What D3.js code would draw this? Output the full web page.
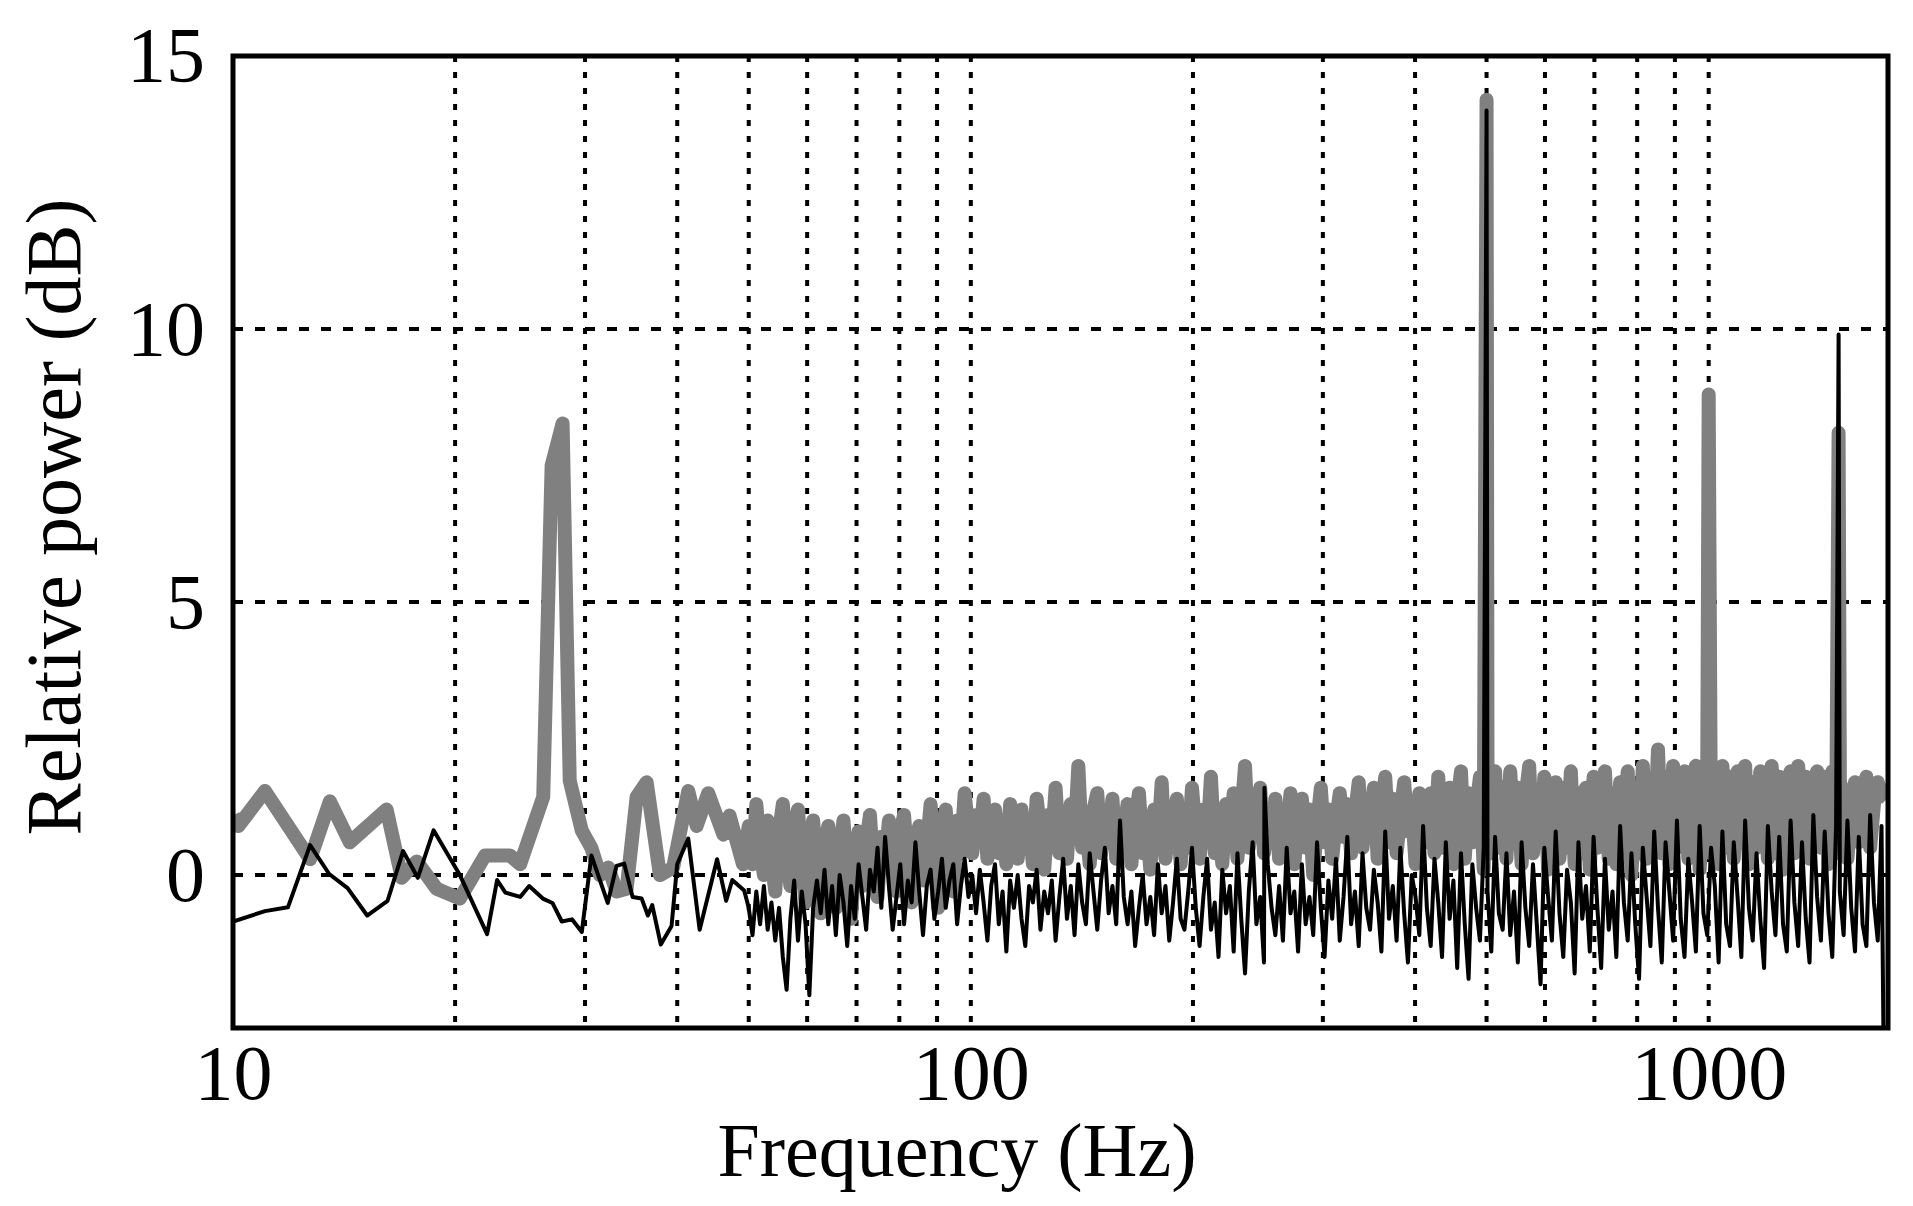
<!DOCTYPE html>
<html>
<head>
<meta charset="utf-8">
<script src="https://cdn.jsdelivr.net/npm/d3@7"></script>
<style>
  body { margin: 0; background: #fff; }
  text { font-family: "Liberation Serif", "DejaVu Serif", serif; }
</style>
</head>
<body>
<svg id="chart" width="1913" height="1206"></svg>
<script>
// axes
const xTicks = [10, 100, 1000];
const xGrid = [20, 30, 40, 50, 60, 70, 80, 90, 200, 300, 400, 500, 600, 700, 800, 900];
const yTicks = [0, 5, 10, 15];

// low-frequency part read point by point [Hz, dB]
const blackLow = [[10,-0.85],[11.05,-0.66],[11.87,-0.59],[12.72,0.55],[13.5,0.02],[14.3,-0.24],[15.2,-0.74],[16.2,-0.47],[17.0,0.44],[17.8,-0.05],[18.7,0.82],[20.3,0.0],[22.1,-1.08],[22.8,-0.09],[23.4,-0.32],[24.5,-0.4],[25.2,-0.2],[26.3,-0.43],[27.1,-0.51],[27.9,-0.85],[28.8,-0.81],[29.7,-1.04],[30.6,0.36],[32.2,-0.51],[33.1,0.17],[33.9,0.21],[34.8,-0.4],[35.8,-0.43],[36.5,-0.74],[37,-0.55],[38,-1.27],[39.3,-0.93],[40,0.2],[41.4,0.67],[42.9,-1.0],[45.3,0.29],[46.6,-0.47],[47.5,-0.09],[49.3,-0.28]];
const grayLow = [[10,1.09],[10.17,0.9],[11.05,1.54],[12.72,0.29],[13.53,1.35],[14.4,0.6],[16.15,1.2],[16.93,-0.05],[17.74,0.25],[18.88,-0.25],[20.3,-0.43],[21.96,0.36],[23.73,0.36],[24.5,0.2],[26.33,1.43],[27.03,7.5],[27.97,8.27],[28.6,1.73],[29.69,0.82],[30.6,0.5],[31.43,0.0],[32.26,0.14],[33.1,-0.3],[34.16,-0.25],[35.24,1.43],[36.36,1.7],[37.9,0.0],[39.5,0.14],[41.4,1.54],[42.5,0.9],[44.06,1.5],[46.2,0.74],[47.1,1.09],[49.1,0.2]];

const hiStart = 50, hiEnd = 1715;
const blackHi = [
 -0.6,-1.1,-0.3,-0.9,-0.2,-1.0,-0.5,-1.2,-0.6,-1.5,-2.1,-0.8,-0.1,-1.2,-0.3,-0.9,-2.2,-0.6,-0.1,-0.7,
 0.1,-0.9,-0.2,-1.1,0.0,-0.5,-1.3,-0.2,-0.8,0.2,-0.4,-1.0,0.1,-0.3,0.5,-0.6,0.7,-0.2,-1.0,-0.4,
 0.2,-0.9,-0.1,-0.5,0.6,-0.3,-1.1,-0.2,0.1,-0.8,-0.3,0.3,-0.6,-0.1,0.2,-0.9,-0.2,0.3,-0.4,0.0,
 -0.7,0.1,-0.5,-1.2,-0.2,0.2,-0.9,-0.3,-1.4,-0.1,-0.6,0.0,-0.8,-1.3,-0.2,-0.5,0.1,-1.0,-0.3,-0.7,
 -0.1,-1.2,-0.4,0.3,-0.8,-0.2,-1.1,0.2,-0.5,-0.9,0.4,-0.3,-1.0,-0.1,0.5,-0.7,-0.2,-0.9,1.0,-0.4,
 -0.9,-0.3,-1.3,-0.6,0.0,-0.9,-0.4,-1.1,0.2,-0.7,-0.2,-1.2,-0.5,0.3,-0.8,-1.0,-0.3,0.5,-0.6,-1.3,
 -0.4,0.3,-1.0,-0.5,-1.5,0.1,-0.7,-0.2,-1.4,0.4,-0.8,-1.8,-0.3,0.6,-0.9,-0.4,-1.6,0.2,-0.6,-1.1,
 -0.2,-1.2,0.5,-0.7,-0.3,-1.4,0.2,-0.9,-0.4,-1.1,0.6,-0.6,-1.5,-0.1,-0.8,0.3,-1.2,-0.4,0.7,-0.9,
 -0.3,-1.3,0.4,-0.6,-1.0,0.1,-0.5,-1.4,0.8,-0.8,-0.2,-1.2,0.5,-0.7,-1.6,0.0,-0.4,-1.1,0.9,-0.6,
 -1.3,0.3,-0.5,-1.5,0.6,-0.8,-0.1,-1.7,0.4,-0.9,-1.9,0.2,-0.6,-1.2,0.5,-0.3,-1.4,0.7,-0.7,-1.0,
 0.4,-1.1,-0.3,-1.6,0.6,-0.6,-1.3,0.2,-0.9,-2.0,0.5,-0.4,-1.2,0.8,-0.7,-1.5,0.1,-0.5,-1.8,0.6,
 -0.8,-0.2,-1.4,0.7,-0.6,-1.7,0.3,-1.0,-0.3,-1.5,0.9,-0.5,-1.2,0.4,-0.9,-1.9,0.5,-0.4,-1.3,0.8,
 -0.6,-1.6,0.6,-0.3,-1.2,1.0,-0.8,-1.5,0.3,-0.5,-1.4,0.9,-0.7,-1.1,0.5,-0.2,-1.6,0.8,-0.9,-1.3,
 0.6,-0.4,-1.5,1.0,-0.6,-1.2,0.4,-0.8,-1.7,0.9,-0.3,-1.1,0.7,-0.9,-1.4,1.0,-0.5,-1.3,0.6,-0.8,
 -1.6,1.1,-0.4,-1.2,0.8,-0.7,-1.5,0.9,-0.3,-1.1,1.0,-0.6,-1.4,0.7,-0.9,-1.3,1.1,-0.5,-1.2,0.9
];
const grayHi = [
 0.9,0.2,1.3,0.5,0.0,1.0,0.3,-0.3,0.8,1.3,0.4,-0.2,0.9,1.2,0.2,-0.5,0.6,1.0,0.1,-0.7,
 0.5,0.9,-0.1,-0.6,0.4,1.0,0.1,-0.8,0.3,0.8,-0.2,0.6,1.1,0.0,-0.4,0.7,0.2,1.0,0.4,-0.3,
 0.8,1.1,0.2,-0.5,0.6,0.9,-0.1,0.5,1.3,0.3,-0.6,0.7,1.2,0.2,-0.3,1.0,0.4,1.5,0.8,0.4,
 1.1,0.6,1.4,0.3,0.9,1.2,0.4,1.0,0.2,1.3,0.7,0.3,1.2,0.5,1.0,0.2,1.4,0.8,0.1,1.1,
 0.6,1.6,0.4,1.1,0.3,1.3,0.7,2.0,0.5,0.9,0.2,1.2,1.5,0.4,1.0,0.6,1.4,0.3,1.1,0.8,
 1.3,0.2,1.0,1.5,0.4,0.9,0.1,1.2,0.6,1.7,0.3,1.1,0.7,1.4,0.2,1.0,0.5,1.6,0.8,0.3,
 1.2,0.6,1.8,0.4,1.0,0.2,1.3,0.7,1.5,0.3,1.1,2.0,0.5,1.2,0.8,1.6,0.4,1.0,0.6,1.4,
 0.3,1.1,0.7,1.5,0.2,1.0,1.4,0.5,1.2,0.0,0.9,1.6,0.6,1.2,0.3,1.0,1.5,0.7,1.3,0.4,
 1.1,1.7,0.5,1.3,0.9,1.6,0.3,1.2,1.8,0.6,1.4,0.4,1.1,1.7,0.8,1.3,0.2,1.5,1.0,0.6,
 1.5,0.4,1.8,0.5,1.2,1.6,0.2,1.3,1.9,0.3,1.5,0.6,1.2,1.8,0.1,1.5,0.4,1.9,0.5,1.6,
 0.3,1.9,0.6,1.6,0.2,1.4,2.0,0.4,1.5,0.6,1.8,0.1,1.4,1.7,0.3,1.6,0.5,1.9,0.2,1.5,
 0.4,1.6,0.1,1.8,0.5,1.4,1.9,0.3,1.5,0.2,1.7,0.6,1.9,0.0,1.6,0.4,2.0,0.3,1.7,0.5,
 2.3,0.4,1.8,0.2,2.0,0.5,1.6,1.9,0.3,1.7,2.0,0.1,1.5,1.9,0.4,1.7,0.2,2.0,0.5,1.8,
 0.3,1.9,0.6,2.0,0.2,1.7,0.5,1.9,1.6,0.3,2.0,0.4,1.8,0.1,1.7,1.9,0.4,2.0,0.5,1.8,
 0.3,1.7,1.9,0.5,1.8,0.2,1.9,0.4,1.7,1.5,0.3,1.2,1.7,0.6,1.4,1.8,0.5,1.3,1.7,1.5
];

// narrow harmonic peaks [Hz, dB]
const blackPeaks = [[250,1.6],[500,14.0],[1500,9.9],[1725,-2.8]];
const grayPeaks = [[500,14.2],[1000,8.8],[1500,8.1],[1745,1.4]];

const margin = { top: 56, right: 25, bottom: 178, left: 233 };
const width = 1913 - margin.left - margin.right;
const height = 1206 - margin.top - margin.bottom;

const svg = d3.select("#chart");
const g = svg.append("g").attr("transform", `translate(${margin.left},${margin.top})`);

const x = d3.scaleLog().domain([10, 1750]).range([0, width]);
const y = d3.scaleLinear().domain([-2.8, 15]).range([height, 0]);

function buildSeries(low, hi, peaks) {
    const n = hi.length;
    const step = Math.log(hiEnd / hiStart) / (n - 1);
    let pts = low.slice();
    hi.forEach((v, i) => pts.push([hiStart * Math.exp(step * i), v]));
    pts = pts.concat(peaks);
    pts.sort((a, b) => a[0] - b[0]);
    return pts;
}

const blackData = buildSeries(blackLow, blackHi, blackPeaks);
const grayData = buildSeries(grayLow, grayHi, grayPeaks);

// grid
g.selectAll(".vgrid").data(xGrid.concat([100, 1000])).enter().append("line")
    .attr("x1", d => x(d)).attr("x2", d => x(d))
    .attr("y1", 0).attr("y2", height)
    .attr("stroke", "#000").attr("stroke-width", 4)
    .attr("stroke-dasharray", "6,10");
g.selectAll(".hgrid").data([0, 5, 10]).enter().append("line")
    .attr("x1", 0).attr("x2", width)
    .attr("y1", d => y(d)).attr("y2", d => y(d))
    .attr("stroke", "#000").attr("stroke-width", 4)
    .attr("stroke-dasharray", "10,12");

g.append("clipPath").attr("id", "clip")
    .append("rect").attr("width", width).attr("height", height);

const line = d3.line().x(d => x(d[0])).y(d => y(d[1]));

g.append("path").datum(grayData)
    .attr("clip-path", "url(#clip)")
    .attr("fill", "none").attr("stroke", "#808080")
    .attr("stroke-width", 14).attr("stroke-linejoin", "round")
    .attr("d", line);

g.append("path").datum(blackData)
    .attr("clip-path", "url(#clip)")
    .attr("fill", "none").attr("stroke", "#000")
    .attr("stroke-width", 4).attr("stroke-linejoin", "round")
    .attr("d", line);

// axes
const xAxis = d3.axisBottom(x).tickValues(xTicks).tickFormat(d3.format("d")).tickSize(0).tickPadding(16);
const gx = g.append("g").attr("transform", `translate(0,${height})`).call(xAxis);
gx.select(".domain").remove();
gx.selectAll("text").attr("font-size", 78).attr("fill", "#000")
    .attr("font-family", "Liberation Serif");

const yAxis = d3.axisLeft(y).tickValues(yTicks).tickSize(0).tickPadding(28);
const gy = g.append("g").call(yAxis);
gy.select(".domain").remove();
gy.selectAll("text").attr("font-size", 78).attr("fill", "#000")
    .attr("font-family", "Liberation Serif");

g.append("rect").attr("width", width).attr("height", height)
    .attr("fill", "none").attr("stroke", "#000").attr("stroke-width", 5);

svg.append("text")
    .attr("x", 957).attr("y", 1176)
    .attr("text-anchor", "middle").attr("font-size", 76)
    .text("Frequency (Hz)");

svg.append("text")
    .attr("transform", `translate(80,${margin.top + height / 2 - 25}) rotate(-90)`)
    .attr("text-anchor", "middle").attr("font-size", 78)
    .text("Relative power (dB)");
</script>
</body>
</html>
